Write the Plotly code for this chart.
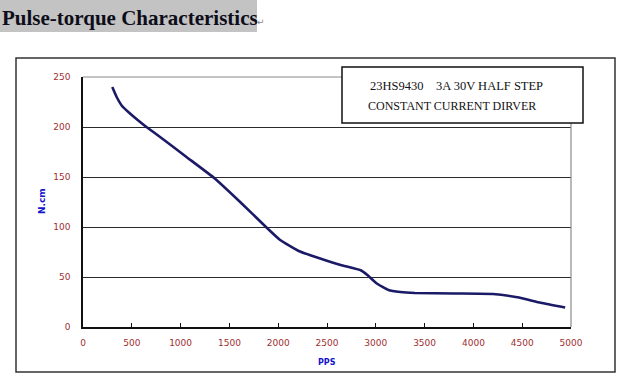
import plotly.graph_objects as go

# ---- data ----
pps = [300, 345, 400, 470, 560, 650, 790, 1060, 1350, 1610, 1875, 2020, 2210,
       2430, 2640, 2850, 2920, 3010, 3130, 3250, 3400, 3800, 4200, 4450, 4690, 4940]
torque = [240, 230, 221, 214.5, 207, 200, 190, 170, 148.5, 125, 100, 87, 76,
          68.5, 62, 56.5, 51.5, 43.5, 37, 35, 34, 33.5, 33, 29.7, 24.3, 19.5]
x_ticks = [0, 500, 1000, 1500, 2000, 2500, 3000, 3500, 4000, 4500, 5000]
y_ticks = [0, 50, 100, 150, 200, 250]
title_text = "Pulse-torque Characteristics"
legend_line1 = "23HS9430 &nbsp;&nbsp;&nbsp;3A 30V HALF STEP"
legend_line2 = "CONSTANT CURRENT DIRVER"
x_title = "PPS"
y_title = "N.cm"

W, H = 625, 392
L, R, T, B = 83, 571, 77, 327  # plot area in pixels


def px(xp):
    return (xp - L) / (R - L)


def py(yp):
    return (B - yp) / (B - T)


fig = go.Figure()
fig.add_trace(go.Scatter(
    x=pps, y=torque, mode="lines",
    line=dict(color="#1a1a66", width=2.6, shape="spline", smoothing=0.4),
    hoverinfo="skip", showlegend=False,
))

tick_font = dict(family="DejaVu Sans", size=9, color="#9e2f2f")

fig.update_layout(
    width=W, height=H,
    margin=dict(l=L, r=W - R, t=T, b=H - B, pad=0),
    paper_bgcolor="white", plot_bgcolor="white",
    showlegend=False,
    xaxis=dict(
        range=[0, 5000], tickvals=x_ticks, ticktext=[str(v) for v in x_ticks],
        showgrid=False, zeroline=False,
        showline=True, linecolor="#111111", linewidth=1.5,
        ticks="inside", ticklen=4, tickcolor="#111111", tickwidth=1,
        tickfont=tick_font, ticklabelstandoff=6,
    ),
    yaxis=dict(
        range=[0, 250], tickvals=y_ticks, ticktext=[str(v) for v in y_ticks],
        showgrid=True, gridcolor="#2a2a2a", gridwidth=1, zeroline=False,
        showline=True, linecolor="#111111", linewidth=1.5,
        ticks="", tickfont=tick_font, ticklabelstandoff=9,
    ),
)

shapes = []
# title grey background
shapes.append(dict(type="rect", xref="paper", yref="paper",
                   x0=px(0), x1=px(257), y0=py(32), y1=py(0),
                   fillcolor="#c3c3c3", line=dict(width=0), layer="below"))
# outer chart frame
shapes.append(dict(type="rect", xref="paper", yref="paper",
                   x0=px(16), x1=px(615), y0=py(372), y1=py(58),
                   line=dict(color="#333333", width=1.5), fillcolor="rgba(0,0,0,0)"))
# plot area top / right border (grey)
shapes.append(dict(type="line", xref="paper", yref="paper",
                   x0=0, x1=1, y0=1, y1=1, line=dict(color="#8a8a8a", width=1.2)))
shapes.append(dict(type="line", xref="paper", yref="paper",
                   x0=1, x1=1, y0=0, y1=1, line=dict(color="#8a8a8a", width=1.2)))
# legend text box
shapes.append(dict(type="rect", xref="paper", yref="paper",
                   x0=px(342), x1=px(583), y0=py(123), y1=py(67),
                   line=dict(color="#111111", width=1.5), fillcolor="white"))
fig.update_layout(shapes=shapes)

ann = []
ann.append(dict(xref="paper", yref="paper", x=px(0), y=py(18),
                xanchor="left", yanchor="middle", showarrow=False,
                text="<b>" + title_text + "</b>",
                font=dict(family="Liberation Serif", size=21, color="#0d0d1a")))
ann.append(dict(xref="paper", yref="paper", x=px(255), y=py(22),
                xanchor="left", yanchor="middle", showarrow=False,
                text="\u21b5", font=dict(family="DejaVu Sans", size=9, color="#888888")))
ann.append(dict(xref="paper", yref="paper", x=px(368), y=py(86),
                xanchor="left", yanchor="middle", showarrow=False,
                text=legend_line1,
                font=dict(family="Liberation Serif", size=12.5, color="#111111")))
ann.append(dict(xref="paper", yref="paper", x=px(366), y=py(106),
                xanchor="left", yanchor="middle", showarrow=False,
                text=legend_line2,
                font=dict(family="Liberation Serif", size=12, color="#111111")))
ann.append(dict(xref="paper", yref="paper", x=px(327), y=py(362),
                xanchor="center", yanchor="middle", showarrow=False,
                text="<b>" + x_title + "</b>",
                font=dict(family="DejaVu Sans", size=8, color="#1414c8")))
ann.append(dict(xref="paper", yref="paper", x=px(42), y=py(201),
                xanchor="center", yanchor="middle", showarrow=False, textangle=-90,
                text="<b>" + y_title + "</b>",
                font=dict(family="DejaVu Sans", size=9, color="#1414c8")))
fig.update_layout(annotations=ann)

fig.write_html("out.html",
               config={"displayModeBar": False},
               post_script="document.body.style.margin='0px';document.body.style.padding='0px';")
